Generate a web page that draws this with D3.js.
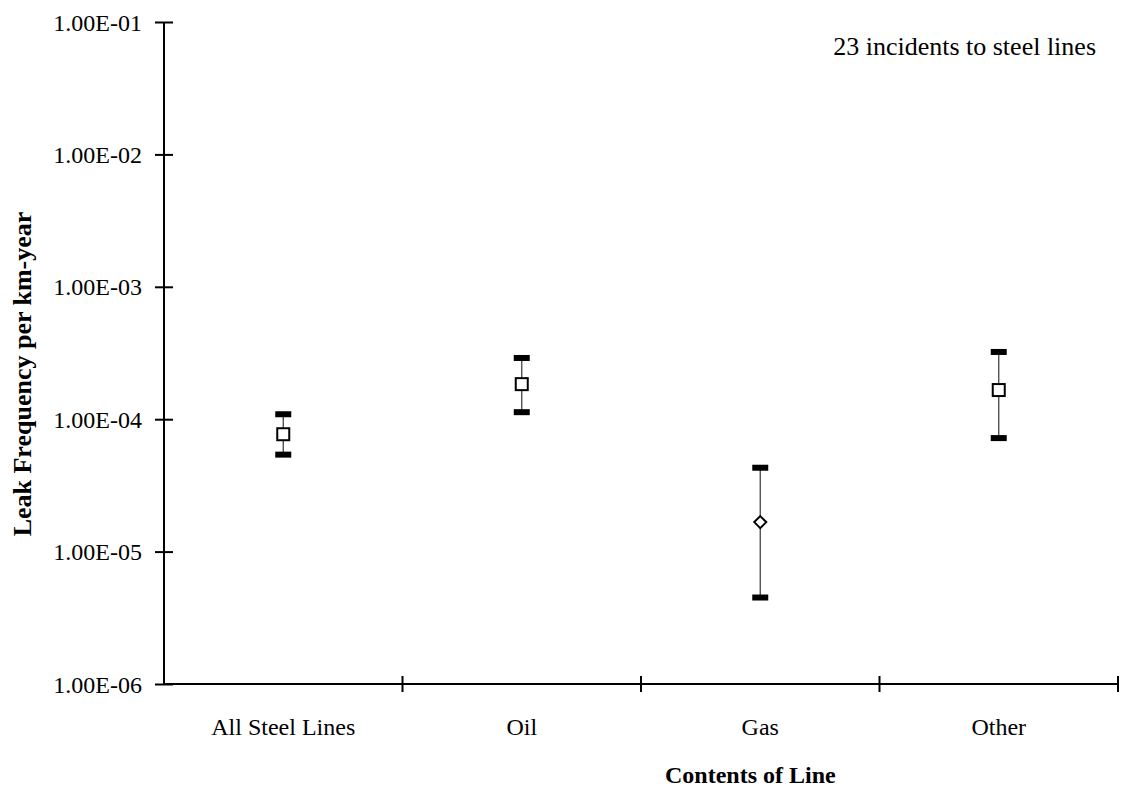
<!DOCTYPE html>
<html>
<head>
<meta charset="utf-8">
<script src="https://cdn.jsdelivr.net/npm/d3@7"></script>
<style>
  body { margin: 0; background: #fff; }
  text { font-family: "Liberation Serif", "Times New Roman", serif; fill: #000; }
</style>
</head>
<body>
<svg id="chart" width="1123" height="792"></svg>
<script>
// data
const categories = ["All Steel Lines", "Oil", "Gas", "Other"];
const markers = ["square", "square", "diamond", "square"];
const means = [7.7e-5, 1.84e-4, 1.67e-5, 1.66e-4];
const upper = [1.09e-4, 2.9e-4, 4.3e-5, 3.22e-4];
const lower = [5.4e-5, 1.13e-4, 4.5e-6, 7.2e-5];
const yTicks = [1e-6, 1e-5, 1e-4, 1e-3, 1e-2, 1e-1];

const svg = d3.select("#chart");
const m = {left: 164, right: 1118, top: 22, bottom: 684};

const x = d3.scaleBand()
    .domain(categories)
    .range([m.left, m.right]);

const y = d3.scaleLog()
    .domain([1e-6, 1e-1])
    .range([m.bottom, m.top]);

const fmt = d => d.toExponential(2).replace(/e([+-])(\d)$/, "E$10$2").toUpperCase();

// y axis
const yAxis = svg.append("g")
    .attr("transform", "translate(" + m.left + ",0)")
    .call(d3.axisLeft(y).tickValues(yTicks).tickFormat(fmt).tickSize(9).tickPadding(13));
yAxis.select(".domain").attr("stroke-width", 2).attr("d", "M0," + m.bottom + "V" + m.top);
yAxis.selectAll(".tick line").attr("x1", -9).attr("x2", 9).attr("stroke-width", 2);
yAxis.selectAll(".tick text")
    .attr("font-size", 24)
    .attr("font-family", "Liberation Serif")
    .attr("dy", "0.34em");

// x axis
const xAxis = svg.append("g")
    .attr("transform", "translate(0," + m.bottom + ")");
xAxis.append("line")
    .attr("x1", m.left).attr("x2", m.right)
    .attr("stroke", "#000").attr("stroke-width", 2);
const bounds = categories.map(c => x(c)).concat([m.right]);
xAxis.selectAll(".xt").data(bounds.slice(1)).join("line")
    .attr("x1", d => d).attr("x2", d => d)
    .attr("y1", -8).attr("y2", 8)
    .attr("stroke", "#000").attr("stroke-width", 2);
xAxis.selectAll(".xl").data(categories).join("text")
    .attr("x", d => x(d) + x.bandwidth() / 2)
    .attr("y", 51)
    .attr("text-anchor", "middle")
    .attr("font-size", 24)
    .text(d => d);

// error bars
const g = svg.append("g");
categories.forEach((c, i) => {
  const cx = x(c) + x.bandwidth() / 2;
  g.append("line")
      .attr("x1", cx).attr("x2", cx)
      .attr("y1", y(upper[i])).attr("y2", y(lower[i]))
      .attr("stroke", "#444").attr("stroke-width", 1.3);
  [upper[i], lower[i]].forEach(v => {
    g.append("rect")
        .attr("x", cx - 8).attr("y", y(v) - 3)
        .attr("width", 16).attr("height", 6)
        .attr("fill", "#000");
  });
  const cy = y(means[i]);
  if (markers[i] === "square") {
    g.append("rect")
        .attr("x", cx - 6).attr("y", cy - 6)
        .attr("width", 12).attr("height", 12)
        .attr("fill", "#fff").attr("stroke", "#000").attr("stroke-width", 2);
  } else {
    g.append("path")
        .attr("d", "M" + cx + "," + (cy - 6) + "L" + (cx + 6) + "," + cy + "L" + cx + "," + (cy + 6) + "L" + (cx - 6) + "," + cy + "Z")
        .attr("fill", "#fff").attr("stroke", "#000").attr("stroke-width", 2);
  }
});

// labels
svg.append("text")
    .attr("x", 1096).attr("y", 55)
    .attr("text-anchor", "end")
    .attr("font-size", 26)
    .text("23 incidents to steel lines");

svg.append("text")
    .attr("transform", "translate(31,374) rotate(-90)")
    .attr("text-anchor", "middle")
    .attr("font-size", 26)
    .attr("font-weight", "bold")
    .text("Leak Frequency per km-year");

svg.append("text")
    .attr("x", 665).attr("y", 783)
    .attr("text-anchor", "start")
    .attr("font-size", 24)
    .attr("font-weight", "bold")
    .text("Contents of Line");
</script>
</body>
</html>
